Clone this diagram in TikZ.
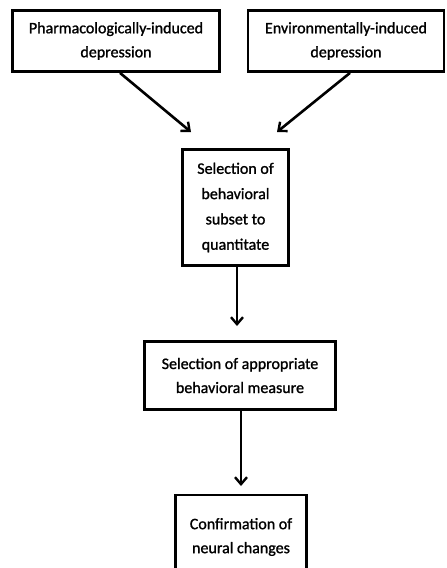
\documentclass[tikz,border=0pt]{standalone}
\usepackage{fontspec}
\setmainfont{Carlito}
\newfontfamily\scanfont{Carlito}[FakeBold=1.2]
\usetikzlibrary{arrows.meta}
\tikzset{
  box/.style={draw=black, line width=2.8pt, align=center, inner sep=0pt,
    font=\scanfont\fontsize{16}{24}\selectfont},
  conn/.style={line width=2.6pt, -{Straight Barb[length=7pt,width=12pt,line width=2.4pt]}}
}
\begin{document}
\begin{tikzpicture}[x=1pt,y=-1pt]
\useasboundingbox (0,0) rectangle (447,568);
\clip (0,0) rectangle (447,568);
\fill[white] (0,0) rectangle (447,568);
\node[box, minimum width=207pt, minimum height=61pt] (b1) at (116,41) {Pharmacologically-induced\\depression};
\node[box, minimum width=196pt, minimum height=61pt] (b2) at (346,41) {Environmentally-induced\\depression};
\node[box, minimum width=106pt, minimum height=116pt, font=\scanfont\fontsize{16}{25.3}\selectfont] (b3) at (235.5,207.5) {Selection of\\behavioral\\subset to\\quantitate};
\node[box, minimum width=191pt, minimum height=68pt] (b4) at (240,375.5) {Selection of appropriate\\behavioral measure};
\node[box, minimum width=131pt, minimum height=84pt] (b5) at (241,537) {Confirmation of\\neural changes};
\coordinate (e1) at (191,132);
\coordinate (e2) at (277,132);
\coordinate (e3) at (237,326);
\coordinate (e4) at (241,486);
\draw[conn] ([xshift=4pt]b1.south) -- (e1);
\draw[conn] ([xshift=4pt]b2.south) -- (e2);
\draw[conn] (b3.south -| e3) -- (e3);
\draw[conn] (b4.south -| e4) -- (e4);
\end{tikzpicture}
\end{document}
